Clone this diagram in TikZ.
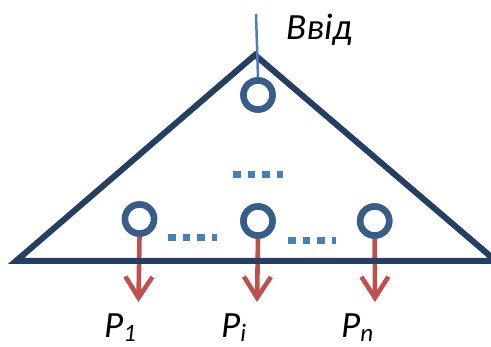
\documentclass[tikz,border=0pt]{standalone}
\usepackage{fontspec}
\setmainfont{Carlito}
\usetikzlibrary{arrows.meta}
\definecolor{navy}{RGB}{36,63,98}
\definecolor{ringblue}{RGB}{56,93,138}
\definecolor{lightblue}{RGB}{74,126,187}
\definecolor{redarrow}{RGB}{192,80,77}
\tikzset{
  x=1pt,y=1pt,
  ring/.style={circle,draw=ringblue,line width=6.5pt,fill=white,minimum size=29pt,inner sep=0pt},
  outarrow/.style={draw=redarrow,line width=4.6pt,-{Straight Barb[length=21pt,width=27pt,line width=4.6pt]}},
  dots/.style={draw=lightblue,line width=7pt,dash pattern=on 7.7pt off 7pt},
  tri/.style={draw=navy,line width=6pt,line join=miter},
  lbl/.style={inner sep=0pt,anchor=base west,font=\fontsize{37}{40}\selectfont\itshape}
}
\newcommand{\subs}[1]{\raisebox{-4pt}{\fontsize{25}{25}\selectfont #1}}
\begin{document}
\begin{tikzpicture}
\useasboundingbox (0,0) rectangle (491,347);
% nodes
\coordinate (A) at (16,86);
\coordinate (B) at (255,292);
\coordinate (C) at (496,86);
\coordinate (in) at (256,333);
\node[ring] (top) at (258,252) {};
\node[ring] (c1) at (139.5,128) {};
\node[ring] (ci) at (258,126) {};
\node[ring] (cn) at (374.7,126) {};
\coordinate (t1) at (138.5,45);
\coordinate (ti) at (257,45);
\coordinate (tn) at (375,45);
% arrows
\draw[outarrow] (c1.south) -- (t1);
\draw[outarrow] (ci.south) -- (ti);
\draw[outarrow] (cn.south) -- (tn);
% triangle
\draw[tri] (A) -- (B) -- (C) -- cycle;
% input line
\draw[draw=lightblue,line width=2.5pt] (in) -- (top.north);
\node[ring] at (top) {};
\node[ring] at (c1) {};
\node[ring] at (ci) {};
\node[ring] at (cn) {};
% dots
\coordinate (d1a) at (233,172); \coordinate (d1b) at (283,172);
\coordinate (d2a) at (168,109); \coordinate (d2b) at (217,109);
\coordinate (d3a) at (288,106.3); \coordinate (d3b) at (336,106.3);
\draw[dots] (d1a) -- (d1b);
\draw[dots] (d2a) -- (d2b);
\draw[dots] (d3a) -- (d3b);
% labels
\node[lbl] (vvid) at (286,307) {Ввід};
\node[lbl] (p1) at (104,9) {P\subs{1}};
\node[lbl] (pi) at (221,9) {P\subs{i}};
\node[lbl] (pn) at (341,9) {P\subs{n}};
\end{tikzpicture}
\end{document}
